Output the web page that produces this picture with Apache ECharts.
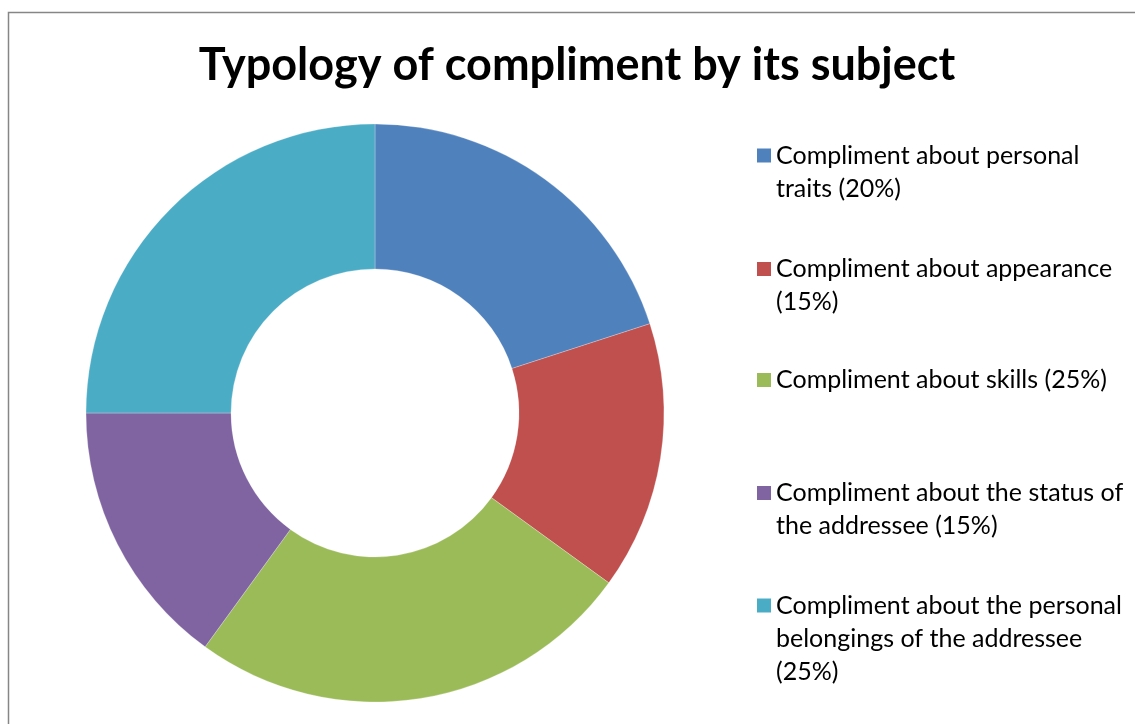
<!DOCTYPE html>
<html>
<head>
<meta charset="utf-8">
<script src="https://cdn.jsdelivr.net/npm/echarts@6/dist/echarts.min.js"></script>
<style>
  html, body { margin: 0; padding: 0; background: #fff; }
  #chart { width: 1135px; height: 724px; }
</style>
</head>
<body>
<div id="chart"></div>
<script>
// Share of each compliment type, percent
const categories = [
  'Compliment about personal traits',
  'Compliment about appearance',
  'Compliment about skills',
  'Compliment about the status of the addressee',
  'Compliment about the personal belongings of the addressee'
];
const values = [20, 15, 25, 15, 25];
const colors = ['#4F81BD', '#C0504D', '#9BBB59', '#8064A2', '#4BACC6'];
const titleText = 'Typology of compliment by its subject';

// Legend layout: vertical centre of each entry's first line
const legendRowY = [155.5, 269, 380, 493, 605.5];
const LINE_H = 33;
const FONT = 'Lato, "Open Sans", sans-serif';

// Greedy word wrap for legend text
function wrap(text, maxChars) {
  const words = text.split(' ');
  const lines = [];
  let cur = '';
  words.forEach(w => {
    if (cur && (cur + ' ' + w).length > maxChars) { lines.push(cur); cur = w; }
    else cur = cur ? cur + ' ' + w : w;
  });
  if (cur) lines.push(cur);
  return lines;
}

const labels = categories.map((c, i) => c + ' (' + values[i] + '%)');
const labelLines = labels.map(l => wrap(l, 30));

// The legend centres its text block on the swatch; blank lines put in
// front keep the swatch level with the first line of wrapped text.
const legends = labels.map((name, i) => {
  const n = labelLines[i].length;
  const padded = new Array(n - 1).fill(' ').concat(labelLines[i]);
  return {
    orient: 'vertical',
    left: 757,
    top: legendRowY[i] - (2 * n - 1) * LINE_H / 2,
    padding: 0,
    itemWidth: 14,
    itemHeight: 14,
    itemGap: 0,
    itemStyle: { borderWidth: 0 },
    icon: 'rect',
    selectedMode: false,
    data: [name],
    formatter: () => padded.join('\n'),
    textStyle: {
      fontFamily: FONT,
      fontSize: 25,
      color: '#000',
      lineHeight: LINE_H
    }
  };
});

const chart = echarts.init(document.getElementById('chart'), null, { renderer: 'canvas' });
chart.setOption({
  animation: false,
  backgroundColor: '#fff',
  color: colors,
  title: {
    text: titleText,
    left: 577,
    top: 43,
    textAlign: 'center',
    padding: 0,
    textStyle: { fontFamily: FONT, fontWeight: 'bold', fontSize: 45, color: '#000' }
  },
  legend: legends,
  graphic: [{
    type: 'rect',
    silent: true,
    shape: { x: 8.5, y: 12.5, width: 2000, height: 2000 },
    style: { fill: 'none', stroke: '#868686', lineWidth: 1.5 }
  }],
  series: [{
    type: 'pie',
    center: [375, 413],
    radius: [144, 289],
    startAngle: 90,
    clockwise: true,
    label: { show: false },
    labelLine: { show: false },
    emphasis: { disabled: true },
    itemStyle: { borderWidth: 0.5, borderColor: 'rgba(255,255,255,0.5)' },
    data: labels.map((name, i) => ({ name, value: values[i] }))
  }]
});
</script>
</body>
</html>
